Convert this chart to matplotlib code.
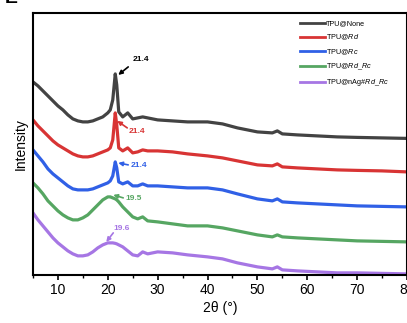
import matplotlib
matplotlib.use('Agg')
import matplotlib.pyplot as plt
from matplotlib.ticker import MultipleLocator

plt.rcParams['font.family'] = ['Liberation Sans', 'DejaVu Sans']
plt.rcParams['mathtext.fontset'] = 'custom'
plt.rcParams['mathtext.rm'] = 'Liberation Sans'
plt.rcParams['mathtext.it'] = 'Liberation Sans:italic'

# 2theta grid (degrees)
two_theta = [5, 6, 7, 8, 9, 10, 11, 12, 13, 14, 15, 16, 17, 18, 19, 20, 20.5, 21, 21.5, 21.8,
             22.2, 23, 24, 25, 26, 27, 28, 30, 33, 36, 40, 43, 46, 50, 53, 54, 55, 58, 62, 66,
             70, 75, 80]

# intensity (a.u., stacked with offsets as in the figure)
tpu_none = [193, 189, 184, 179, 174, 169, 165, 160, 156, 154, 153, 153, 154, 156, 158, 162, 165,
            175, 201, 190, 163, 158, 162, 156, 157, 158, 157, 155, 154, 153, 153, 151, 147, 143,
            142, 144, 141, 140, 139, 138, 137.5, 137, 136.5]
tpu_rd = [155, 149, 144, 139, 134, 130, 127, 124, 121, 119, 118, 118, 119, 121, 123, 125, 127,
          135, 162, 150, 127, 124, 127, 122, 123, 125, 124, 124, 123, 121, 119, 117, 114, 110,
          109, 111, 108, 107, 106, 105, 104.5, 104, 103]
tpu_rc = [125, 119, 113, 106, 101, 97, 93, 89, 86, 85, 85, 85, 86, 88, 90, 92, 94, 99, 113, 107,
          93, 91, 93, 89, 89, 91, 89, 89, 88, 87, 87, 85, 81, 76, 74, 76, 73, 72, 71, 70, 69,
          68.5, 68]
tpu_rd_rc = [92, 87, 81, 74, 69, 64, 60, 57, 55, 55, 57, 60, 65, 70, 75, 78, 78, 77, 76, 75, 73,
             68, 63, 58, 56, 58, 54, 53, 51, 49, 49, 47, 44, 40, 38, 40, 38, 37, 36, 35, 34,
             33.5, 33]
tpu_nag = [62, 55, 49, 43, 37, 32, 28, 24, 21, 19, 19, 20, 23, 27, 30, 32, 32, 32, 31.5, 31, 30,
           28, 24, 20, 19, 23, 21, 23, 22, 20, 18, 16, 12, 8, 6, 8, 5, 4, 3, 2, 2, 1.5, 1]

labels = ['TPU@None', r'TPU@$\mathit{Rd}$', r'TPU@$\mathit{Rc}$',
          r'TPU@$\mathit{Rd\_Rc}$', r'TPU@nAg#$\mathit{Rd\_Rc}$']
colors = ['#434343', '#d83434', '#3060e6', '#56a662', '#a676e4']
series = [tpu_none, tpu_rd, tpu_rc, tpu_rd_rc, tpu_nag]

# peak annotations: label, text pos, arrow tail, arrow head
peaks = ['21.4', '21.4', '21.4', '19.5', '19.6']
text_pos = [(24.9, 215), (24.1, 143.5), (24.5, 109.5), (23.5, 76), (21.1, 46)]
arrow_tail = [(24.1, 208), (23.9, 147), (24.1, 110), (23.1, 77), (21.1, 42)]
arrow_head = [(22.1, 200), (21.9, 154), (22.1, 112), (21.1, 80), (19.7, 33)]

fig = plt.figure(figsize=(4.07, 3.23), dpi=100)
ax = fig.add_axes([0.081, 0.149, 0.919, 0.811])

for y, c, lab in zip(series, colors, labels):
    ax.plot(two_theta, y, color=c, lw=2.3, label=lab)

for i in range(len(peaks)):
    c = 'black' if i == 0 else colors[i]
    ax.annotate('', xy=arrow_head[i], xytext=arrow_tail[i],
                arrowprops=dict(arrowstyle='-|>', color=c, lw=1.2,
                                mutation_scale=6, shrinkA=0, shrinkB=0))
    ax.text(text_pos[i][0], text_pos[i][1], peaks[i], color=c, fontsize=6,
            fontweight='bold', ha='left', va='center')

ax.set_xlim(5, 80)
ax.set_ylim(0, 262)
ax.set_yticks([])
ax.xaxis.set_major_locator(MultipleLocator(10))
ax.xaxis.set_minor_locator(MultipleLocator(5))
ax.tick_params(axis='x', which='major', direction='out', length=3.5, width=1.2, labelsize=10, pad=2)
ax.tick_params(axis='x', which='minor', direction='out', length=2, width=1.0)
for sp in ax.spines.values():
    sp.set_linewidth(1.5)

ax.set_xlabel('2θ (°)', fontsize=10, labelpad=3)
ax.set_ylabel('Intensity', fontsize=10, labelpad=4)

leg = ax.legend(loc='upper left', bbox_to_anchor=(0.714, 0.971), frameon=False,
                fontsize=5.2, handlelength=3.5, handletextpad=0.1, labelspacing=0.7,
                borderaxespad=0, borderpad=0)
for h in leg.get_lines():
    h.set_linewidth(2)

fig.text(0.012, 1 - 3 / 323, 'E', fontsize=14, fontweight='bold', va='baseline')

fig.savefig('out.png', dpi=100)
